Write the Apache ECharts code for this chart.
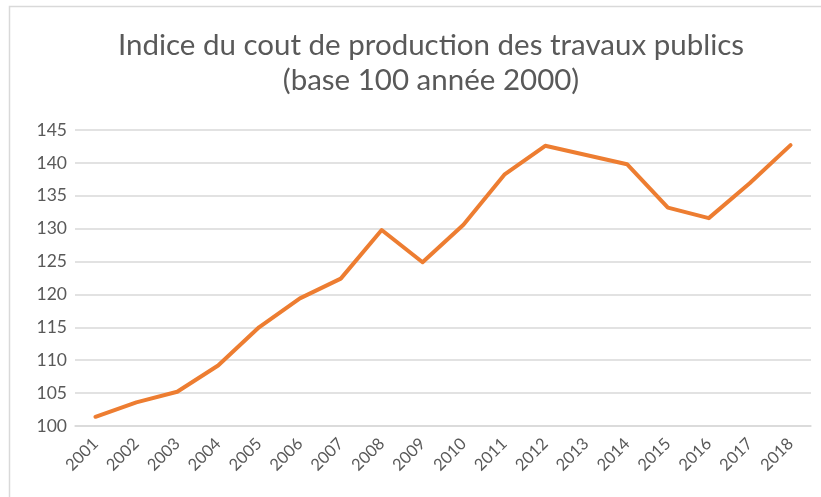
<!DOCTYPE html>
<html>
<head>
<meta charset="utf-8">
<script src="https://cdn.jsdelivr.net/npm/echarts@6/dist/echarts.min.js"></script>
<style>
  html, body { margin: 0; padding: 0; background: #fff; }
  #chart { width: 821px; height: 497px; }
</style>
</head>
<body>
<div id="chart"></div>
<script>
// Years and index values (base 100 in 2000)
const years = ['2001','2002','2003','2004','2005','2006','2007','2008','2009',
               '2010','2011','2012','2013','2014','2015','2016','2017','2018'];
const indexValues = [101.4, 103.6, 105.2, 109.2, 115.0, 119.4, 122.4, 129.8, 124.9,
                     130.6, 138.2, 142.6, 141.2, 139.8, 133.2, 131.6, 136.9, 142.7];
const titleLines = ['Indice du cout de production des travaux publics', '(base 100 année 2000)'];

const chart = echarts.init(document.getElementById('chart'));
chart.setOption({
  backgroundColor: '#ffffff',
  animation: false,
  graphic: [{
    // chart-area frame (runs off the right and bottom edges)
    type: 'rect',
    silent: true,
    shape: { x: 9.5, y: 6.5, width: 900, height: 900 },
    style: { fill: 'none', stroke: '#d9d9d9', lineWidth: 1.5 }
  }, {
    // two-line title, centred on the frame
    type: 'text',
    silent: true,
    x: 431,
    y: 28,
    style: {
      text: titleLines.join('\n'),
      align: 'center',
      verticalAlign: 'top',
      fontFamily: 'Lato',
      fontSize: 29.5,
      lineHeight: 35,
      fill: '#595959'
    }
  }],
  grid: { left: 75, right: 10, top: 130, bottom: 71 },
  xAxis: {
    type: 'category',
    data: years,
    boundaryGap: true,
    axisLine: { show: true, lineStyle: { color: '#d9d9d9', width: 1.5 } },
    axisTick: { show: false },
    axisLabel: {
      rotate: 45,
      interval: 0,
      margin: 15,
      fontFamily: 'Lato',
      fontSize: 16.5,
      color: '#595959'
    }
  },
  yAxis: {
    type: 'value',
    min: 100,
    max: 145,
    interval: 5,
    axisLine: { show: false },
    axisTick: { show: false },
    splitLine: { lineStyle: { color: '#d9d9d9', width: 1.5 } },
    axisLabel: {
      margin: 8,
      fontFamily: 'Lato',
      fontSize: 17.5,
      color: '#595959'
    }
  },
  series: [{
    type: 'line',
    data: indexValues,
    symbol: 'none',
    lineStyle: { color: '#ED7D31', width: 4, cap: 'round', join: 'round' }
  }]
});
</script>
</body>
</html>
